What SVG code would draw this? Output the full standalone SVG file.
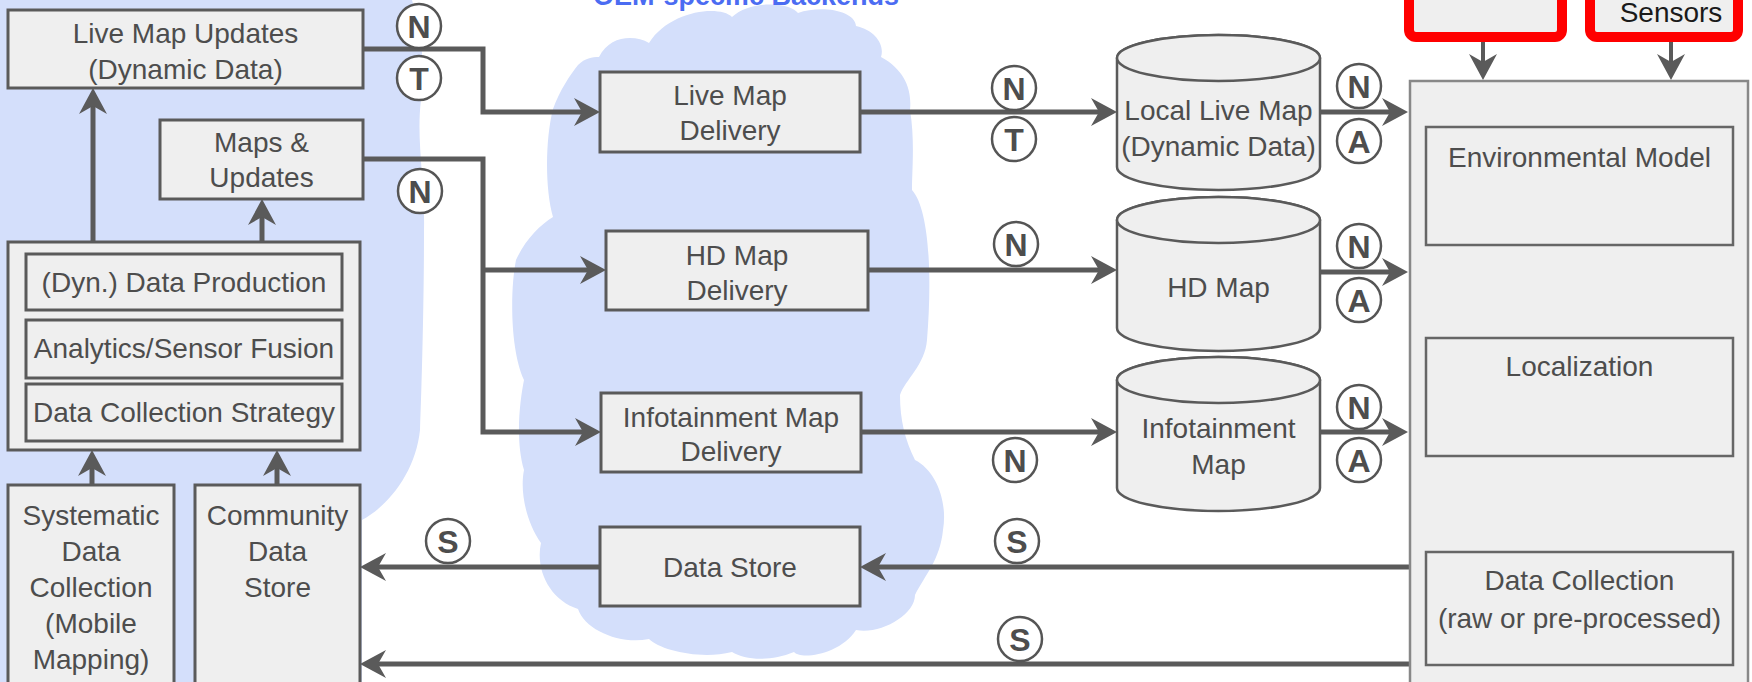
<svg xmlns="http://www.w3.org/2000/svg" width="1752" height="682" viewBox="0 0 1752 682">
<defs>
<style>
.cloud{fill:#d4dffb}
.box{fill:#efefef;stroke:#5a5a5a;stroke-width:3}
.in{fill:#efefef;stroke:#666;stroke-width:2.5}
.t{font-family:"Liberation Sans",Arial,sans-serif;font-size:28px;fill:#4d4d4d;text-anchor:middle}
.ln{fill:none;stroke:#5a5a5a;stroke-width:5;marker-end:url(#ah)}
.lns{fill:none;stroke:#5a5a5a;stroke-width:4;marker-end:url(#ah)}
.c circle{fill:#fff;stroke:#555;stroke-width:2.5}
.c text{font-family:"Liberation Sans",Arial,sans-serif;font-weight:bold;font-size:32px;fill:#4d4d4d;text-anchor:middle}
.red{fill:#efefef;stroke:#ff0000;stroke-width:10}
.cyl{fill:#efefef;stroke:#5a5a5a;stroke-width:2.5}
</style>
<marker id="ah" markerUnits="userSpaceOnUse" markerWidth="28" markerHeight="30" refX="14" refY="15" orient="auto">
<path d="M0,1 L26,15 L0,29 L8,15 Z" fill="#5a5a5a"/>
</marker>
</defs>
<rect width="1752" height="682" fill="#fff"/>
<g id="clouds">
<path class="cloud" d="M0,0 L412,0 C420,30 426,60 421,100 C416,140 425,180 424,230 C424,300 422,380 420,430 C416,470 390,505 362,520 L362,682 L0,682 Z"/>
<path class="cloud" d="M599,57 C610,35 635,35 649,43 C670,10 720,5 732,17 C750,0 790,2 798,13 C820,5 855,10 856,26 C875,30 885,45 881,57 C905,70 912,90 910,110 C915,140 912,170 912,190 C930,210 932,280 927,340 C925,365 905,380 900,395 C900,420 905,440 915,460 C935,470 948,500 943,530 C940,560 925,575 915,595 C915,615 880,635 856,630 C840,655 800,660 794,652 C770,662 745,660 732,652 C700,660 660,650 649,639 C620,645 585,630 578,609 C550,600 535,570 541,543 C525,520 520,490 524,470 C515,440 520,400 524,380 C510,350 510,290 516,260 C525,240 540,225 553,217 C545,190 545,140 553,109 C560,90 570,75 578,65 C585,58 592,57 599,57 Z"/>
<text x="746" y="5" font-family="Liberation Sans,Arial,sans-serif" font-weight="bold" font-size="27" fill="#4b6cf2" text-anchor="middle">OEM-specific Backends</text>
</g>
<g id="connectors">
<path class="ln" d="M363,49 H483 V112 H588"/>
<path class="ln" d="M363,159 H483 V432 H589"/>
<path class="ln" d="M483,270 H594"/>
<path class="ln" d="M93,242 V100"/>
<path class="ln" d="M262,242 V211"/>
<path class="ln" d="M92,485 V462"/>
<path class="ln" d="M277,485 V462"/>
<path class="ln" d="M860,112 H1105"/>
<path class="ln" d="M868,270 H1105"/>
<path class="ln" d="M861,432 H1105"/>
<path class="ln" d="M1320,112 H1396"/>
<path class="ln" d="M1320,272 H1396"/>
<path class="ln" d="M1320,432 H1396"/>
<path class="ln" d="M1410,567 H872"/>
<path class="ln" d="M600,567 H372"/>
<path class="ln" d="M1410,664 H372"/>
<path class="lns" d="M1483,42 V68"/>
<path class="lns" d="M1671,42 V68"/>
</g>
<g id="live-map-updates"><rect class="box" x="8" y="10" width="355" height="78"/><text class="t" x="185.5" y="43">Live Map Updates</text><text class="t" x="185.5" y="79">(Dynamic Data)</text></g>
<g id="maps-updates"><rect class="box" x="160" y="120" width="203" height="79"/><text class="t" x="261.5" y="152">Maps &amp;</text><text class="t" x="261.5" y="187">Updates</text></g>
<g id="production"><rect class="box" x="8" y="242" width="352" height="208"/>
<rect class="box" x="26" y="254" width="316" height="56"/><text class="t" x="184" y="292">(Dyn.) Data Production</text>
<rect class="box" x="26" y="320" width="316" height="58"/><text class="t" x="184" y="358">Analytics/Sensor Fusion</text>
<rect class="box" x="26" y="384" width="316" height="57"/><text class="t" x="184" y="422">Data Collection Strategy</text></g>
<g id="systematic"><rect class="box" x="8" y="485" width="166" height="220"/><text class="t" x="91" y="525">Systematic</text><text class="t" x="91" y="561">Data</text><text class="t" x="91" y="597">Collection</text><text class="t" x="91" y="633">(Mobile</text><text class="t" x="91" y="669">Mapping)</text></g>
<g id="community"><rect class="box" x="195" y="485" width="165" height="220"/><text class="t" x="277.5" y="525">Community</text><text class="t" x="277.5" y="561">Data</text><text class="t" x="277.5" y="597">Store</text></g>
<g id="live-map-delivery"><rect class="box" x="600" y="72" width="260" height="80"/><text class="t" x="730" y="105">Live Map</text><text class="t" x="730" y="140">Delivery</text></g>
<g id="hd-map-delivery"><rect class="box" x="606" y="231" width="262" height="79"/><text class="t" x="737" y="265">HD Map</text><text class="t" x="737" y="300">Delivery</text></g>
<g id="infotainment-delivery"><rect class="box" x="601" y="393" width="260" height="79"/><text class="t" x="731" y="427">Infotainment Map</text><text class="t" x="731" y="461">Delivery</text></g>
<g id="data-store"><rect class="box" x="600" y="527" width="260" height="79"/><text class="t" x="730" y="577">Data Store</text></g>
<g id="local-live-map"><path class="cyl" d="M1117,58 A101.5,23 0 0 1 1320,58 V167 A101.5,23 0 0 1 1117,167 Z"/><ellipse class="cyl" cx="1218.5" cy="58" rx="101.5" ry="23"/><text class="t" x="1218.5" y="120">Local Live Map</text><text class="t" x="1218.5" y="156">(Dynamic Data)</text></g>
<g id="hd-map"><path class="cyl" d="M1117,220 A101.5,23 0 0 1 1320,220 V328 A101.5,23 0 0 1 1117,328 Z"/><ellipse class="cyl" cx="1218.5" cy="220" rx="101.5" ry="23"/><text class="t" x="1218.5" y="297">HD Map</text></g>
<g id="infotainment-map"><path class="cyl" d="M1117,380 A101.5,23 0 0 1 1320,380 V488 A101.5,23 0 0 1 1117,488 Z"/><ellipse class="cyl" cx="1218.5" cy="380" rx="101.5" ry="23"/><text class="t" x="1218.5" y="438">Infotainment</text><text class="t" x="1218.5" y="474">Map</text></g>
<g id="vehicle"><rect x="1410" y="81" width="338" height="640" fill="#efefef" stroke="#888" stroke-width="2.5"/>
<rect class="in" x="1426" y="127" width="307" height="118"/><text class="t" x="1579.5" y="167">Environmental Model</text>
<rect class="in" x="1426" y="338" width="307" height="118"/><text class="t" x="1579.5" y="376">Localization</text>
<rect class="in" x="1426" y="552" width="307" height="113"/><text class="t" x="1579.5" y="590">Data Collection</text><text class="t" x="1579.5" y="628">(raw or pre-processed)</text></g>
<g id="red-box-1"><rect class="red" x="1409" y="-20" width="153" height="57" rx="7"/></g>
<g id="sensors"><rect class="red" x="1590" y="-20" width="148" height="57" rx="7"/><text class="t" x="1671" y="22" style="fill:#1a1a1a">Sensors</text></g>
<g id="labels">
<g class="c"><circle cx="419" cy="26" r="22"/><text x="419" y="37.5">N</text></g>
<g class="c"><circle cx="419" cy="78" r="22"/><text x="419" y="89.5">T</text></g>
<g class="c"><circle cx="420" cy="191" r="22"/><text x="420" y="202.5">N</text></g>
<g class="c"><circle cx="1014" cy="88" r="22"/><text x="1014" y="99.5">N</text></g>
<g class="c"><circle cx="1014" cy="139" r="22"/><text x="1014" y="150.5">T</text></g>
<g class="c"><circle cx="1016" cy="244" r="22"/><text x="1016" y="255.5">N</text></g>
<g class="c"><circle cx="1015" cy="460" r="22"/><text x="1015" y="471.5">N</text></g>
<g class="c"><circle cx="1359" cy="86" r="22"/><text x="1359" y="97.5">N</text></g>
<g class="c"><circle cx="1359" cy="141" r="22"/><text x="1359" y="152.5">A</text></g>
<g class="c"><circle cx="1359" cy="246" r="22"/><text x="1359" y="257.5">N</text></g>
<g class="c"><circle cx="1359" cy="300" r="22"/><text x="1359" y="311.5">A</text></g>
<g class="c"><circle cx="1359" cy="407" r="22"/><text x="1359" y="418.5">N</text></g>
<g class="c"><circle cx="1359" cy="460" r="22"/><text x="1359" y="471.5">A</text></g>
<g class="c"><circle cx="448" cy="541" r="22"/><text x="448" y="552.5">S</text></g>
<g class="c"><circle cx="1017" cy="541" r="22"/><text x="1017" y="552.5">S</text></g>
<g class="c"><circle cx="1020" cy="639" r="22"/><text x="1020" y="650.5">S</text></g>
</g>
</svg>
